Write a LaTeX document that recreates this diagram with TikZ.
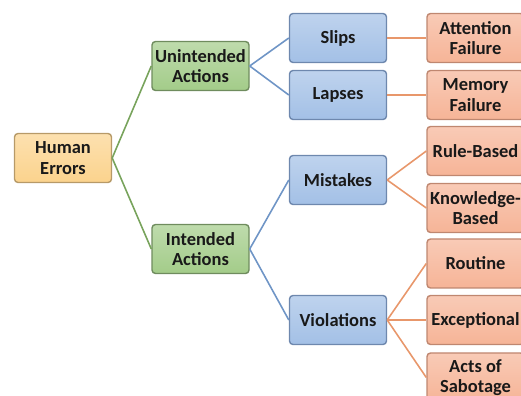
\documentclass[tikz,border=0pt]{standalone}
\usepackage{fontspec}
\setmainfont{Carlito}
\usepackage{xcolor}
\usepackage{tikz}
\usetikzlibrary{shapes.geometric, arrows}
\definecolor{rootfill}{HTML}{FBD38D}
\definecolor{rootdraw}{HTML}{B79A68}
\definecolor{actfill}{HTML}{A3CC89}
\definecolor{actdraw}{HTML}{6F8C5E}
\definecolor{kindfill}{HTML}{A3C0E6}
\definecolor{kinddraw}{HTML}{6E88AE}
\definecolor{causefill}{HTML}{F6B497}
\definecolor{causedraw}{HTML}{BF8770}
\definecolor{gwire}{HTML}{78A35C}
\definecolor{bwire}{HTML}{6F95C6}
\definecolor{owire}{HTML}{E8976B}
\tikzstyle{box} = [rectangle, rounded corners=2pt, minimum width=1.94cm, minimum height=0.98cm, inner sep=1pt, align=center, line width=0.8pt, font=\fontsize{10.5}{11.5}\selectfont\bfseries, text=black!90]
\tikzstyle{root} = [box, draw=rootdraw, top color=rootfill!70!white, bottom color=rootfill]
\tikzstyle{act} = [box, draw=actdraw, top color=actfill!70!white, bottom color=actfill]
\tikzstyle{kind} = [box, draw=kinddraw, top color=kindfill!70!white, bottom color=kindfill]
\tikzstyle{cause} = [box, draw=causedraw, top color=causefill!70!white, bottom color=causefill]
\tikzstyle{gline} = [line width=0.9pt, draw=gwire]
\tikzstyle{bline} = [line width=0.9pt, draw=bwire]
\tikzstyle{oline} = [line width=0.9pt, draw=owire]
\begin{document}
\begin{tikzpicture}[node distance = 2.75cm]
    \clip (0,0) rectangle (10.42,-7.92);
    \node (human) [root] at (1.26,-3.16) {Human\\Errors};
    \node (unint) [act, right of=human, yshift=1.84cm] {Unintended\\Actions};
    \node (int) [act, right of=human, yshift=-1.82cm] {Intended\\Actions};
    \node (slips) [kind, right of=unint, yshift=0.56cm] {Slips};
    \node (lapses) [kind, right of=unint, yshift=-0.58cm] {Lapses};
    \node (mistakes) [kind, right of=int, yshift=1.38cm] {Mistakes};
    \node (viol) [kind, right of=int, yshift=-1.42cm] {Violations};
    \node (att) [cause, right of=slips] {Attention\\Failure};
    \node (mem) [cause, right of=lapses] {Memory\\Failure};
    \node (rule) [cause, right of=mistakes, yshift=0.58cm] {Rule-Based};
    \node (know) [cause, right of=mistakes, yshift=-0.56cm] {Knowledge-\\Based};
    \node (routine) [cause, right of=viol, yshift=1.13cm] {Routine};
    \node (except) [cause, right of=viol] {Exceptional};
    \node (sabot) [cause, right of=viol, yshift=-1.15cm] {Acts of\\Sabotage};
    \draw [gline] (human.east) -- (unint.west);
    \draw [gline] (human.east) -- (int.west);
    \draw [bline] (unint.east) -- (slips.west);
    \draw [bline] (unint.east) -- (lapses.west);
    \draw [bline] (int.east) -- (mistakes.west);
    \draw [bline] (int.east) -- (viol.west);
    \draw [oline] (slips) -- (att);
    \draw [oline] (lapses) -- (mem);
    \draw [oline] (mistakes.east) -- (rule.west);
    \draw [oline] (mistakes.east) -- (know.west);
    \draw [oline] (viol.east) -- (routine.west);
    \draw [oline] (viol.east) -- (except.west);
    \draw [oline] (viol.east) -- (sabot.west);
\end{tikzpicture}
\end{document}
